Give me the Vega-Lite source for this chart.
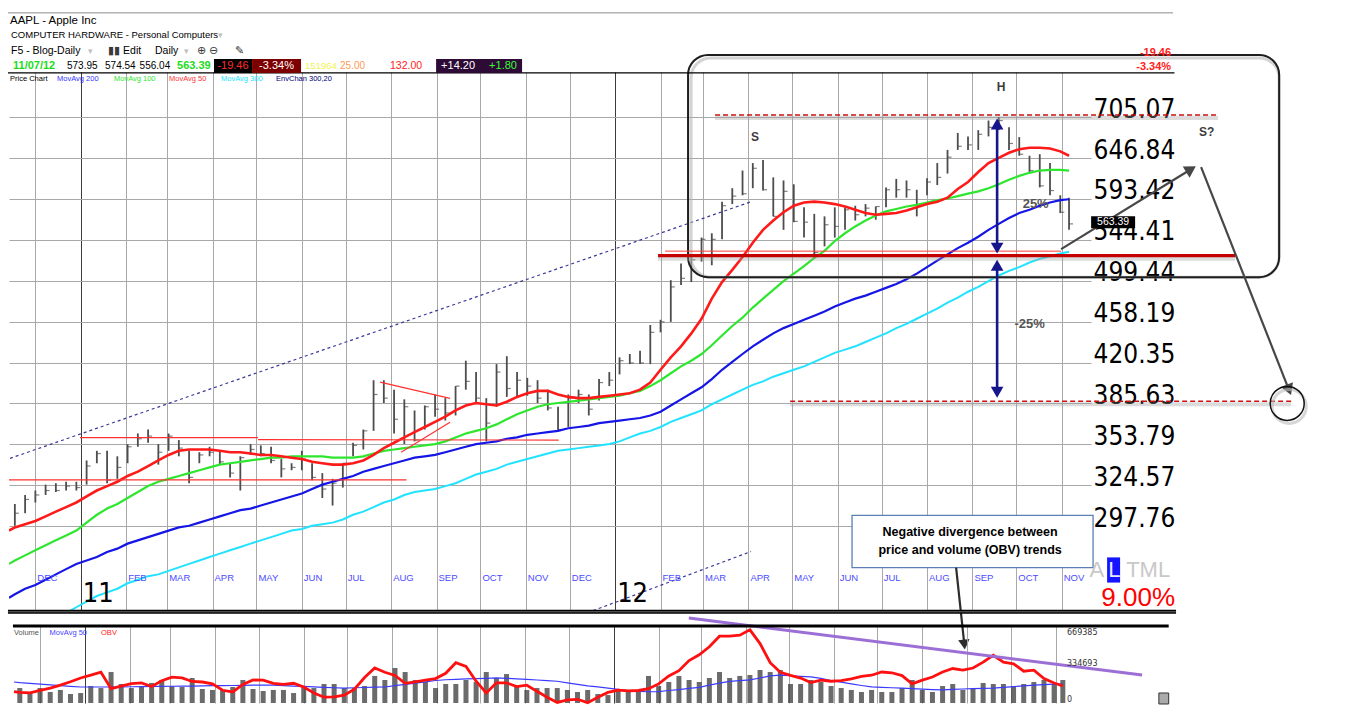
{
  "$schema": "https://vega.github.io/schema/vega-lite/v6.json",
  "background": "white",
  "padding": {"left": 5, "top": 12, "right": 4, "bottom": 4},
  "spacing": 14,
  "bounds": "flush",
  "config": {"view": {"stroke": null}, "font": "Liberation Sans", "text": {"font": "Liberation Sans"}},
  "datasets": {
    "w": [
      {"d": "2010-11-13", "a": 295, "b": 275, "c": 256, "e": 232, "vm": 198000, "ob": 107000},
      {"d": "2010-11-17", "hi": 312, "lo": 298, "cl": 306, "a": 297, "b": 277, "c": 258, "e": 235, "vol": 141000, "vm": 192000, "ob": 100000},
      {"d": "2010-11-24", "hi": 318, "lo": 306, "cl": 315, "a": 299, "b": 280, "c": 261, "e": 238, "vol": 104000, "vm": 185000, "ob": 96000},
      {"d": "2010-12-01", "hi": 321, "lo": 313, "cl": 318, "a": 301, "b": 283, "c": 263, "e": 240, "vol": 141000, "vm": 178000, "ob": 118000},
      {"d": "2010-12-08", "hi": 325, "lo": 318, "cl": 321, "a": 304, "b": 286, "c": 266, "e": 242, "vol": 104000, "vm": 170000, "ob": 140000},
      {"d": "2010-12-15", "hi": 326, "lo": 320, "cl": 321, "a": 307, "b": 289, "c": 269, "e": 245, "vol": 123000, "vm": 163000, "ob": 168000},
      {"d": "2010-12-22", "hi": 327, "lo": 321, "cl": 324, "a": 310, "b": 292, "c": 272, "e": 248, "vol": 85000, "vm": 157000, "ob": 200000},
      {"d": "2010-12-29", "hi": 327, "lo": 321, "cl": 323, "a": 313, "b": 295, "c": 275, "e": 251, "vol": 94000, "vm": 151000, "ob": 236000},
      {"d": "2011-01-05", "hi": 342, "lo": 325, "cl": 338, "a": 317, "b": 300, "c": 277, "e": 254, "vol": 160000, "vm": 151000, "ob": 262000},
      {"d": "2011-01-12", "hi": 349, "lo": 340, "cl": 347, "a": 321, "b": 305, "c": 279, "e": 257, "vol": 141000, "vm": 151000, "ob": 290000},
      {"d": "2011-01-19", "hi": 349, "lo": 326, "cl": 328, "a": 324, "b": 309, "c": 282, "e": 259, "vol": 292000, "vm": 151000, "ob": 135000},
      {"d": "2011-01-26", "hi": 345, "lo": 329, "cl": 337, "a": 327, "b": 312, "c": 284, "e": 261, "vol": 179000, "vm": 151000, "ob": 160000},
      {"d": "2011-02-02", "hi": 354, "lo": 340, "cl": 352, "a": 331, "b": 316, "c": 287, "e": 264, "vol": 141000, "vm": 153000, "ob": 183000},
      {"d": "2011-02-09", "hi": 362, "lo": 352, "cl": 358, "a": 334, "b": 320, "c": 289, "e": 266, "vol": 151000, "vm": 155000, "ob": 190000},
      {"d": "2011-02-16", "hi": 365, "lo": 355, "cl": 360, "a": 338, "b": 324, "c": 291, "e": 268, "vol": 189000, "vm": 156000, "ob": 155000},
      {"d": "2011-02-23", "hi": 354, "lo": 339, "cl": 348, "a": 342, "b": 327, "c": 293, "e": 269, "vol": 217000, "vm": 157000, "ob": 210000},
      {"d": "2011-03-02", "hi": 362, "lo": 349, "cl": 360, "a": 346, "b": 329, "c": 295, "e": 271, "vol": 160000, "vm": 158000, "ob": 243000},
      {"d": "2011-03-09", "hi": 357, "lo": 345, "cl": 351, "a": 349, "b": 331, "c": 297, "e": 273, "vol": 151000, "vm": 159000, "ob": 236000},
      {"d": "2011-03-16", "hi": 349, "lo": 326, "cl": 330, "a": 350, "b": 333, "c": 298, "e": 275, "vol": 236000, "vm": 160000, "ob": 203000},
      {"d": "2011-03-23", "hi": 348, "lo": 340, "cl": 346, "a": 350, "b": 335, "c": 300, "e": 277, "vol": 132000, "vm": 161000, "ob": 198000},
      {"d": "2011-03-30", "hi": 352, "lo": 345, "cl": 348, "a": 350, "b": 337, "c": 302, "e": 279, "vol": 123000, "vm": 163000, "ob": 180000},
      {"d": "2011-04-06", "hi": 349, "lo": 339, "cl": 341, "a": 349, "b": 339, "c": 304, "e": 281, "vol": 123000, "vm": 164000, "ob": 120000},
      {"d": "2011-04-13", "hi": 340, "lo": 330, "cl": 333, "a": 348, "b": 340, "c": 306, "e": 283, "vol": 151000, "vm": 165000, "ob": 104000},
      {"d": "2011-04-20", "hi": 345, "lo": 321, "cl": 344, "a": 348, "b": 341, "c": 308, "e": 285, "vol": 217000, "vm": 166000, "ob": 175000},
      {"d": "2011-04-27", "hi": 354, "lo": 346, "cl": 350, "a": 347, "b": 342, "c": 309, "e": 287, "vol": 132000, "vm": 168000, "ob": 217000},
      {"d": "2011-05-04", "hi": 353, "lo": 345, "cl": 347, "a": 346, "b": 343, "c": 311, "e": 289, "vol": 113000, "vm": 169000, "ob": 215000},
      {"d": "2011-05-11", "hi": 352, "lo": 340, "cl": 342, "a": 346, "b": 344, "c": 313, "e": 291, "vol": 123000, "vm": 168000, "ob": 185000},
      {"d": "2011-05-18", "hi": 343, "lo": 330, "cl": 336, "a": 345, "b": 344, "c": 315, "e": 293, "vol": 123000, "vm": 164000, "ob": 175000},
      {"d": "2011-05-25", "hi": 340, "lo": 335, "cl": 337, "a": 344, "b": 345, "c": 317, "e": 295, "vol": 94000, "vm": 160000, "ob": 186000},
      {"d": "2011-06-01", "hi": 349, "lo": 335, "cl": 343, "a": 343, "b": 345, "c": 319, "e": 296, "vol": 141000, "vm": 156000, "ob": 150000},
      {"d": "2011-06-08", "hi": 340, "lo": 328, "cl": 330, "a": 341, "b": 345, "c": 322, "e": 298, "vol": 141000, "vm": 152000, "ob": 95000},
      {"d": "2011-06-15", "hi": 333, "lo": 316, "cl": 322, "a": 340, "b": 345, "c": 325, "e": 299, "vol": 179000, "vm": 148000, "ob": 55000},
      {"d": "2011-06-22", "hi": 329, "lo": 311, "cl": 326, "a": 339, "b": 344, "c": 327, "e": 300, "vol": 179000, "vm": 144000, "ob": 58000},
      {"d": "2011-06-29", "hi": 340, "lo": 323, "cl": 340, "a": 339, "b": 344, "c": 329, "e": 302, "vol": 141000, "vm": 141000, "ob": 73000},
      {"d": "2011-07-06", "hi": 355, "lo": 345, "cl": 353, "a": 340, "b": 344, "c": 331, "e": 305, "vol": 141000, "vm": 144000, "ob": 130000},
      {"d": "2011-07-13", "hi": 365, "lo": 350, "cl": 364, "a": 342, "b": 345, "c": 334, "e": 307, "vol": 160000, "vm": 146000, "ob": 240000},
      {"d": "2011-07-20", "hi": 405, "lo": 364, "cl": 393, "a": 346, "b": 347, "c": 336, "e": 310, "vol": 255000, "vm": 149000, "ob": 330000},
      {"d": "2011-07-27", "hi": 405, "lo": 386, "cl": 390, "a": 351, "b": 349, "c": 338, "e": 313, "vol": 217000, "vm": 151000, "ob": 290000},
      {"d": "2011-08-03", "hi": 397, "lo": 362, "cl": 373, "a": 355, "b": 350, "c": 340, "e": 315, "vol": 330000, "vm": 163000, "ob": 260000},
      {"d": "2011-08-10", "hi": 389, "lo": 354, "cl": 383, "a": 359, "b": 351, "c": 342, "e": 318, "vol": 292000, "vm": 175000, "ob": 185000},
      {"d": "2011-08-17", "hi": 380, "lo": 356, "cl": 357, "a": 363, "b": 352, "c": 344, "e": 320, "vol": 217000, "vm": 188000, "ob": 200000},
      {"d": "2011-08-24", "hi": 384, "lo": 365, "cl": 383, "a": 367, "b": 353, "c": 345, "e": 321, "vol": 198000, "vm": 200000, "ob": 216000},
      {"d": "2011-08-31", "hi": 393, "lo": 375, "cl": 381, "a": 371, "b": 354, "c": 346, "e": 322, "vol": 141000, "vm": 212000, "ob": 230000},
      {"d": "2011-09-07", "hi": 390, "lo": 372, "cl": 378, "a": 375, "b": 356, "c": 348, "e": 324, "vol": 179000, "vm": 219000, "ob": 280000},
      {"d": "2011-09-14", "hi": 400, "lo": 376, "cl": 400, "a": 380, "b": 359, "c": 350, "e": 326, "vol": 179000, "vm": 223000, "ob": 380000},
      {"d": "2011-09-21", "hi": 422, "lo": 397, "cl": 404, "a": 384, "b": 362, "c": 352, "e": 329, "vol": 217000, "vm": 227000, "ob": 345000},
      {"d": "2011-09-28", "hi": 412, "lo": 385, "cl": 390, "a": 386, "b": 364, "c": 354, "e": 332, "vol": 198000, "vm": 230000, "ob": 205000},
      {"d": "2011-10-05", "hi": 390, "lo": 356, "cl": 370, "a": 385, "b": 366, "c": 355, "e": 334, "vol": 292000, "vm": 233000, "ob": 94000},
      {"d": "2011-10-12", "hi": 419, "lo": 383, "cl": 412, "a": 384, "b": 369, "c": 356, "e": 336, "vol": 236000, "vm": 236000, "ob": 190000},
      {"d": "2011-10-19", "hi": 426, "lo": 391, "cl": 398, "a": 387, "b": 373, "c": 358, "e": 339, "vol": 273000, "vm": 232000, "ob": 190000},
      {"d": "2011-10-26", "hi": 412, "lo": 391, "cl": 405, "a": 391, "b": 377, "c": 359, "e": 341, "vol": 160000, "vm": 227000, "ob": 155000},
      {"d": "2011-11-02", "hi": 407, "lo": 392, "cl": 400, "a": 394, "b": 380, "c": 361, "e": 343, "vol": 123000, "vm": 222000, "ob": 168000},
      {"d": "2011-11-09", "hi": 405, "lo": 386, "cl": 390, "a": 396, "b": 383, "c": 362, "e": 345, "vol": 141000, "vm": 217000, "ob": 110000},
      {"d": "2011-11-16", "hi": 397, "lo": 380, "cl": 382, "a": 396, "b": 385, "c": 363, "e": 347, "vol": 141000, "vm": 211000, "ob": 55000},
      {"d": "2011-11-23", "hi": 383, "lo": 364, "cl": 365, "a": 393, "b": 386, "c": 364, "e": 349, "vol": 141000, "vm": 205000, "ob": 5000},
      {"d": "2011-11-30", "hi": 393, "lo": 367, "cl": 390, "a": 391, "b": 387, "c": 366, "e": 350, "vol": 123000, "vm": 190000, "ob": 30000},
      {"d": "2011-12-07", "hi": 397, "lo": 386, "cl": 393, "a": 390, "b": 388, "c": 367, "e": 351, "vol": 104000, "vm": 175000, "ob": 35000},
      {"d": "2011-12-14", "hi": 393, "lo": 376, "cl": 381, "a": 390, "b": 389, "c": 368, "e": 352, "vol": 123000, "vm": 162000, "ob": 3000},
      {"d": "2011-12-21", "hi": 406, "lo": 388, "cl": 403, "a": 391, "b": 390, "c": 370, "e": 353, "vol": 85000, "vm": 152000, "ob": 55000},
      {"d": "2011-12-28", "hi": 412, "lo": 400, "cl": 405, "a": 392, "b": 391, "c": 371, "e": 354, "vol": 75000, "vm": 140000, "ob": 100000},
      {"d": "2012-01-04", "hi": 425, "lo": 410, "cl": 422, "a": 393, "b": 392, "c": 372, "e": 356, "vol": 123000, "vm": 128000, "ob": 122000},
      {"d": "2012-01-11", "hi": 428, "lo": 419, "cl": 420, "a": 394, "b": 394, "c": 373, "e": 359, "vol": 104000, "vm": 117000, "ob": 115000},
      {"d": "2012-01-18", "hi": 431, "lo": 419, "cl": 420, "a": 397, "b": 396, "c": 374, "e": 362, "vol": 123000, "vm": 109000, "ob": 118000},
      {"d": "2012-01-25", "hi": 455, "lo": 419, "cl": 448, "a": 403, "b": 400, "c": 376, "e": 364, "vol": 255000, "vm": 106000, "ob": 135000},
      {"d": "2012-02-01", "hi": 460, "lo": 448, "cl": 458, "a": 414, "b": 405, "c": 379, "e": 367, "vol": 160000, "vm": 108000, "ob": 180000},
      {"d": "2012-02-08", "hi": 500, "lo": 458, "cl": 493, "a": 425, "b": 411, "c": 384, "e": 371, "vol": 198000, "vm": 118000, "ob": 255000},
      {"d": "2012-02-15", "hi": 518, "lo": 495, "cl": 502, "a": 435, "b": 417, "c": 389, "e": 374, "vol": 255000, "vm": 127000, "ob": 305000},
      {"d": "2012-02-22", "hi": 528, "lo": 498, "cl": 522, "a": 447, "b": 422, "c": 394, "e": 377, "vol": 217000, "vm": 137000, "ob": 400000},
      {"d": "2012-02-29", "hi": 547, "lo": 520, "cl": 545, "a": 461, "b": 428, "c": 399, "e": 380, "vol": 198000, "vm": 148000, "ob": 455000},
      {"d": "2012-03-07", "hi": 552, "lo": 516, "cl": 545, "a": 481, "b": 436, "c": 406, "e": 385, "vol": 236000, "vm": 168000, "ob": 530000},
      {"d": "2012-03-14", "hi": 590, "lo": 545, "cl": 585, "a": 498, "b": 445, "c": 414, "e": 389, "vol": 292000, "vm": 187000, "ob": 630000},
      {"d": "2012-03-21", "hi": 607, "lo": 587, "cl": 597, "a": 511, "b": 454, "c": 421, "e": 393, "vol": 236000, "vm": 204000, "ob": 630000},
      {"d": "2012-03-28", "hi": 630, "lo": 598, "cl": 600, "a": 525, "b": 462, "c": 428, "e": 397, "vol": 255000, "vm": 211000, "ob": 640000},
      {"d": "2012-04-04", "hi": 640, "lo": 607, "cl": 633, "a": 541, "b": 472, "c": 435, "e": 401, "vol": 264000, "vm": 218000, "ob": 690000},
      {"d": "2012-04-11", "hi": 644, "lo": 604, "cl": 605, "a": 556, "b": 481, "c": 441, "e": 404, "vol": 311000, "vm": 236000, "ob": 560000},
      {"d": "2012-04-18", "hi": 621, "lo": 572, "cl": 572, "a": 567, "b": 490, "c": 447, "e": 408, "vol": 292000, "vm": 255000, "ob": 380000},
      {"d": "2012-04-25", "hi": 617, "lo": 556, "cl": 603, "a": 577, "b": 499, "c": 452, "e": 411, "vol": 311000, "vm": 263000, "ob": 290000},
      {"d": "2012-05-02", "hi": 612, "lo": 565, "cl": 566, "a": 585, "b": 507, "c": 456, "e": 414, "vol": 179000, "vm": 257000, "ob": 260000},
      {"d": "2012-05-09", "hi": 583, "lo": 547, "cl": 565, "a": 589, "b": 515, "c": 460, "e": 417, "vol": 179000, "vm": 251000, "ob": 235000},
      {"d": "2012-05-16", "hi": 575, "lo": 523, "cl": 530, "a": 590, "b": 524, "c": 464, "e": 421, "vol": 217000, "vm": 246000, "ob": 192000},
      {"d": "2012-05-23", "hi": 572, "lo": 537, "cl": 562, "a": 589, "b": 532, "c": 468, "e": 425, "vol": 198000, "vm": 232000, "ob": 215000},
      {"d": "2012-05-30", "hi": 583, "lo": 547, "cl": 560, "a": 587, "b": 543, "c": 473, "e": 429, "vol": 160000, "vm": 212000, "ob": 205000},
      {"d": "2012-06-06", "hi": 583, "lo": 556, "cl": 580, "a": 584, "b": 552, "c": 477, "e": 432, "vol": 141000, "vm": 196000, "ob": 210000},
      {"d": "2012-06-13", "hi": 585, "lo": 567, "cl": 574, "a": 580, "b": 560, "c": 481, "e": 435, "vol": 123000, "vm": 180000, "ob": 228000},
      {"d": "2012-06-20", "hi": 587, "lo": 572, "cl": 582, "a": 576, "b": 567, "c": 484, "e": 439, "vol": 104000, "vm": 165000, "ob": 250000},
      {"d": "2012-06-27", "hi": 584, "lo": 568, "cl": 584, "a": 574, "b": 573, "c": 488, "e": 443, "vol": 123000, "vm": 152000, "ob": 262000},
      {"d": "2012-07-04", "hi": 608, "lo": 583, "cl": 605, "a": 575, "b": 578, "c": 492, "e": 447, "vol": 104000, "vm": 148000, "ob": 292000},
      {"d": "2012-07-11", "hi": 619, "lo": 595, "cl": 605, "a": 576, "b": 581, "c": 496, "e": 452, "vol": 104000, "vm": 144000, "ob": 285000},
      {"d": "2012-07-18", "hi": 617, "lo": 595, "cl": 605, "a": 579, "b": 584, "c": 501, "e": 456, "vol": 141000, "vm": 140000, "ob": 258000},
      {"d": "2012-07-25", "hi": 605, "lo": 572, "cl": 585, "a": 583, "b": 586, "c": 507, "e": 461, "vol": 217000, "vm": 135000, "ob": 180000},
      {"d": "2012-08-01", "hi": 620, "lo": 598, "cl": 615, "a": 587, "b": 589, "c": 514, "e": 466, "vol": 123000, "vm": 130000, "ob": 215000},
      {"d": "2012-08-08", "hi": 640, "lo": 611, "cl": 621, "a": 590, "b": 592, "c": 521, "e": 471, "vol": 104000, "vm": 126000, "ob": 245000},
      {"d": "2012-08-15", "hi": 658, "lo": 626, "cl": 648, "a": 595, "b": 594, "c": 528, "e": 477, "vol": 160000, "vm": 124000, "ob": 292000},
      {"d": "2012-08-22", "hi": 682, "lo": 658, "cl": 663, "a": 606, "b": 597, "c": 535, "e": 482, "vol": 179000, "vm": 128000, "ob": 325000},
      {"d": "2012-08-29", "hi": 677, "lo": 658, "cl": 665, "a": 615, "b": 600, "c": 541, "e": 488, "vol": 123000, "vm": 132000, "ob": 310000},
      {"d": "2012-09-05", "hi": 686, "lo": 658, "cl": 680, "a": 628, "b": 603, "c": 548, "e": 493, "vol": 141000, "vm": 135000, "ob": 330000},
      {"d": "2012-09-12", "hi": 700, "lo": 677, "cl": 690, "a": 640, "b": 607, "c": 556, "e": 499, "vol": 189000, "vm": 138000, "ob": 385000},
      {"d": "2012-09-19", "hi": 705, "lo": 686, "cl": 700, "a": 647, "b": 612, "c": 563, "e": 505, "vol": 179000, "vm": 141000, "ob": 450000},
      {"d": "2012-09-26", "hi": 690, "lo": 658, "cl": 667, "a": 654, "b": 618, "c": 570, "e": 510, "vol": 179000, "vm": 147000, "ob": 385000},
      {"d": "2012-10-03", "hi": 676, "lo": 650, "cl": 652, "a": 659, "b": 623, "c": 576, "e": 514, "vol": 160000, "vm": 155000, "ob": 370000},
      {"d": "2012-10-10", "hi": 650, "lo": 626, "cl": 630, "a": 661, "b": 627, "c": 580, "e": 519, "vol": 179000, "vm": 162000, "ob": 300000},
      {"d": "2012-10-17", "hi": 652, "lo": 608, "cl": 610, "a": 661, "b": 630, "c": 585, "e": 523, "vol": 198000, "vm": 168000, "ob": 310000},
      {"d": "2012-10-24", "hi": 640, "lo": 598, "cl": 604, "a": 660, "b": 631, "c": 589, "e": 526, "vol": 217000, "vm": 173000, "ob": 230000},
      {"d": "2012-10-31", "hi": 598, "lo": 576, "cl": 577, "a": 656, "b": 631, "c": 592, "e": 529, "vol": 179000, "vm": 178000, "ob": 189000},
      {"d": "2012-11-06", "hi": 595, "lo": 556, "cl": 563, "a": 650, "b": 630, "c": 593, "e": 531, "vol": 217000, "vm": 179000, "ob": 160000}
    ]
  },
  "vconcat": [
    {
      "width": 1082,
      "height": 540,
      "encoding": {
        "x": {
          "field": "d", "type": "temporal",
          "scale": {"domain": [{"year": 2010, "month": 11, "date": 13}, {"year": 2012, "month": 11, "date": 21}], "nice": false},
          "axis": {
            "title": null, "labels": false, "ticks": false, "domain": false, "grid": true,
            "tickCount": {"interval": "month", "step": 1},
            "gridColor": {"condition": {"test": "month(datum.value) === 0", "value": "#3c3c3c"}, "value": "#a8a8a8"}
          }
        }
      },
      "layer": [
        {
          "data": {"name": "w"},
          "mark": {"type": "rule", "color": "#4d4d4d", "strokeWidth": 1.8},
          "encoding": {
            "y": {
              "field": "lo", "type": "quantitative",
              "scale": {"type": "log", "domain": [248.5, 775.4], "nice": false},
              "axis": {
                "orient": "right", "title": null,
                "values": [297.76, 324.57, 353.79, 385.63, 420.35, 458.19, 499.44, 544.41, 593.42, 646.84, 705.07],
                "format": ".2f", "grid": true, "gridColor": "#a8a8a8", "ticks": false, "domain": false,
                "labelFont": "DejaVu Sans Condensed, Liberation Sans Narrow, sans-serif", "labelFontSize": 26, "labelColor": "#000000",
                "labelAlign": "left", "labelBaseline": "alphabetic", "labelPadding": 2, "labelOverlap": false, "labelBound": false
              }
            },
            "y2": {"field": "hi"}
          }
        },
        {
          "data": {"name": "w"},
          "mark": {"type": "tick", "orient": "horizontal", "size": 4, "thickness": 1.2, "xOffset": 2, "color": "#4d4d4d"},
          "encoding": {"y": {"field": "cl", "type": "quantitative"}}
        },
        {
          "data": {"values": [
            {"d": "2010-11-13T16:00", "p": 343.5, "d2": "2012-04-02T03:00", "p2": 589.5},
            {"d": "2011-12-16T22:00", "p": 249.2, "d2": "2012-04-02T19:00", "p2": 282.3}
          ], "format": {"parse": {"d": "date", "d2": "date"}}},
          "mark": {"type": "rule", "color": "#3a3a9a", "strokeWidth": 1.2, "strokeDash": [3, 3]},
          "encoding": {"y": {"field": "p", "type": "quantitative"}, "x2": {"field": "d2"}, "y2": {"field": "p2"}}
        },
        {
          "data": {"name": "w"},
          "mark": {"type": "line", "color": "#22e3ff", "strokeWidth": 2, "clip": true},
          "encoding": {"y": {"field": "e", "type": "quantitative"}}
        },
        {
          "data": {"name": "w"},
          "mark": {"type": "line", "color": "#1515e6", "strokeWidth": 2.2, "clip": true},
          "encoding": {"y": {"field": "c", "type": "quantitative"}}
        },
        {
          "data": {"name": "w"},
          "mark": {"type": "line", "color": "#2ee62e", "strokeWidth": 2.2, "clip": true},
          "encoding": {"y": {"field": "b", "type": "quantitative"}}
        },
        {
          "data": {"name": "w"},
          "mark": {"type": "line", "color": "#ff1a1a", "strokeWidth": 2.6, "clip": true},
          "encoding": {"y": {"field": "a", "type": "quantitative"}}
        },
        {
          "data": {"values": [
            {"d": "2010-12-31T12:00", "p": 358.8, "d2": "2011-05-02T02:00", "p2": 358.8},
            {"d": "2011-05-02T02:00", "p": 357.3, "d2": "2011-11-23T10:00", "p2": 357.0},
            {"d": "2010-11-13T00:00", "p": 328.3, "d2": "2011-08-11T12:00", "p2": 328.3},
            {"d": "2011-07-24T10:00", "p": 403.4, "d2": "2011-09-10T05:00", "p2": 389.8},
            {"d": "2011-08-07T19:00", "p": 347.9, "d2": "2011-09-10T05:00", "p2": 370.6}
          ], "format": {"parse": {"d": "date", "d2": "date"}}},
          "mark": {"type": "rule", "color": "#ff3030", "strokeWidth": 1.2},
          "encoding": {"y": {"field": "p", "type": "quantitative"}, "x2": {"field": "d2"}, "y2": {"field": "p2"}}
        },
        {
          "data": {"values": [{"d": "2012-02-19T19:00", "d2": "2013-03-29T12:00", "p": 803.8, "p2": 503.2}], "format": {"parse": {"d": "date", "d2": "date"}}},
          "mark": {"type": "rect", "cornerRadius": 20, "fill": null, "stroke": "#b5b5b5", "strokeWidth": 3, "strokeOpacity": 0.6, "xOffset": 3, "yOffset": 3},
          "encoding": {"y": {"field": "p", "type": "quantitative"}, "x2": {"field": "d2"}, "y2": {"field": "p2"}}
        },
        {
          "data": {"values": [{"d": "2012-02-19T19:00", "d2": "2013-03-29T12:00", "p": 803.8, "p2": 503.2}], "format": {"parse": {"d": "date", "d2": "date"}}},
          "mark": {"type": "rect", "cornerRadius": 20, "fill": null, "stroke": "#1e1e1e", "strokeWidth": 2},
          "encoding": {"y": {"field": "p", "type": "quantitative"}, "x2": {"field": "d2"}, "y2": {"field": "p2"}}
        },
        {
          "data": {"values": [
            {"d": "2012-01-30T07:00", "d2": "2013-02-27T10:00", "p": 526.5},
            {"d": "2012-03-09T05:00", "d2": "2013-02-15T19:00", "p": 708.2},
            {"d": "2012-04-29T12:00", "d2": "2013-04-06T17:00", "p": 387.4}
          ], "format": {"parse": {"d": "date", "d2": "date"}}},
          "mark": {"type": "rule", "color": "#9a9a9a", "strokeWidth": 4, "opacity": 0.35, "yOffset": 3},
          "encoding": {"y": {"field": "p", "type": "quantitative"}, "x2": {"field": "d2"}}
        },
        {
          "data": {"values": [{"d": "2012-01-30T07:00", "d2": "2013-02-27T10:00", "p": 526.5}], "format": {"parse": {"d": "date", "d2": "date"}}},
          "mark": {"type": "rule", "color": "#c40000", "strokeWidth": 3.2},
          "encoding": {"y": {"field": "p", "type": "quantitative"}, "x2": {"field": "d2"}}
        },
        {
          "data": {"values": [{"d": "2012-02-04T02:00", "d2": "2012-10-31T14:00", "p": 531.6}], "format": {"parse": {"d": "date", "d2": "date"}}},
          "mark": {"type": "rule", "color": "#ff3b3b", "strokeWidth": 1},
          "encoding": {"y": {"field": "p", "type": "quantitative"}, "x2": {"field": "d2"}}
        },
        {
          "data": {"values": [
            {"d": "2012-03-09T05:00", "d2": "2013-02-15T19:00", "p": 708.2},
            {"d": "2012-04-29T12:00", "d2": "2013-04-06T17:00", "p": 387.4}
          ], "format": {"parse": {"d": "date", "d2": "date"}}},
          "mark": {"type": "rule", "color": "#cc1111", "strokeWidth": 1.5, "strokeDash": [5, 3]},
          "encoding": {"y": {"field": "p", "type": "quantitative"}, "x2": {"field": "d2"}}
        },
        {
          "data": {"values": [
            {"d": "2012-09-17T21:00", "p": 694.9, "p2": 535.0},
            {"d": "2012-09-17T21:00", "p": 516.1, "p2": 394.8}
          ]},
          "mark": {"type": "rule", "color": "#16168c", "strokeWidth": 2.6},
          "encoding": {"y": {"field": "p", "type": "quantitative"}, "y2": {"field": "p2"}}
        },
        {
          "data": {"values": [{"d": "2012-09-17T21:00", "p": 694.9}, {"d": "2012-09-17T21:00", "p": 516.1}]},
          "mark": {"type": "point", "shape": "triangle-up", "filled": true, "size": 160, "color": "#16168c", "opacity": 1},
          "encoding": {"y": {"field": "p", "type": "quantitative"}}
        },
        {
          "data": {"values": [{"d": "2012-09-17T21:00", "p": 535.0}, {"d": "2012-09-17T21:00", "p": 394.8}]},
          "mark": {"type": "point", "shape": "triangle-down", "filled": true, "size": 160, "color": "#16168c", "opacity": 1},
          "encoding": {"y": {"field": "p", "type": "quantitative"}}
        },
        {
          "data": {"values": [
            {"d": "2012-10-31T14:00", "p": 533.8, "d2": "2013-01-28T07:00", "p2": 631.8},
            {"d": "2013-02-04T05:00", "p": 634.6, "d2": "2013-04-05T05:00", "p2": 396.9}
          ], "format": {"parse": {"d": "date", "d2": "date"}}},
          "mark": {"type": "rule", "color": "#474747", "strokeWidth": 2.2},
          "encoding": {"y": {"field": "p", "type": "quantitative"}, "x2": {"field": "d2"}, "y2": {"field": "p2"}}
        },
        {
          "data": {"values": [{"d": "2013-01-28T07:00", "p": 631.8}]},
          "mark": {"type": "point", "shape": "triangle-up", "angle": 58.7, "filled": true, "size": 170, "color": "#474747", "opacity": 1},
          "encoding": {"y": {"field": "p", "type": "quantitative"}}
        },
        {
          "data": {"values": [{"d": "2013-04-05T05:00", "p": 396.9}]},
          "mark": {"type": "point", "shape": "triangle-up", "angle": 158.5, "filled": true, "size": 170, "color": "#474747", "opacity": 1},
          "encoding": {"y": {"field": "p", "type": "quantitative"}}
        },
        {
          "data": {"values": [{"d": "2013-04-04T00:00", "p": 385.7}]},
          "mark": {"type": "point", "shape": "circle", "filled": false, "size": 1156, "stroke": "#bdbdbd", "strokeWidth": 3, "opacity": 0.6, "xOffset": 2, "yOffset": 3},
          "encoding": {"y": {"field": "p", "type": "quantitative"}}
        },
        {
          "data": {"values": [{"d": "2013-04-04T00:00", "p": 385.7}]},
          "mark": {"type": "point", "shape": "circle", "filled": false, "size": 1156, "stroke": "#111111", "strokeWidth": 1.5, "opacity": 1},
          "encoding": {"y": {"field": "p", "type": "quantitative"}}
        },
        {
          "data": {"values": [
            {"d": "2012-04-05T14:00", "p": 676.1, "t": "S"},
            {"d": "2012-09-20T14:00", "p": 751.3, "t": "H"},
            {"d": "2013-02-08T00:00", "p": 683.3, "t": "S?"}
          ]},
          "mark": {"type": "text", "align": "center", "baseline": "middle", "fontSize": 12, "fontWeight": "bold", "color": "#3c3c3c"},
          "encoding": {"y": {"field": "p", "type": "quantitative"}, "text": {"field": "t"}}
        },
        {
          "data": {"values": [
            {"d": "2012-10-14T05:00", "p": 587.0, "t": "25%"},
            {"d": "2012-10-10T02:00", "p": 455.7, "t": "-25%"}
          ]},
          "mark": {"type": "text", "align": "center", "baseline": "middle", "fontSize": 13, "fontWeight": "bold", "color": "#555555"},
          "encoding": {"y": {"field": "p", "type": "quantitative"}, "text": {"field": "t"}}
        },
        {
          "data": {"values": [{"d": "2012-11-21T02:00", "d2": "2012-12-21T03:00", "p": 572.3, "p2": 558.0}], "format": {"parse": {"d": "date", "d2": "date"}}},
          "mark": {"type": "rect", "color": "#000000"},
          "encoding": {"y": {"field": "p", "type": "quantitative"}, "x2": {"field": "d2"}, "y2": {"field": "p2"}}
        },
        {
          "data": {"values": [{"d": "2012-12-06T03:00", "p": 565.1, "t": "563.39"}]},
          "mark": {"type": "text", "align": "center", "baseline": "middle", "fontSize": 10.5, "color": "#ffffff"},
          "encoding": {"y": {"field": "p", "type": "quantitative"}, "text": {"field": "t"}}
        },
        {
          "data": {"values": [{"d": "2012-06-10T19:00", "d2": "2012-11-22T10:00", "p": 304.6, "p2": 272.9}], "format": {"parse": {"d": "date", "d2": "date"}}},
          "mark": {"type": "rect", "color": "#c4c4c4", "opacity": 0.6, "xOffset": 3, "yOffset": 3},
          "encoding": {"y": {"field": "p", "type": "quantitative"}, "x2": {"field": "d2"}, "y2": {"field": "p2"}}
        },
        {
          "data": {"values": [{"d": "2012-06-10T19:00", "d2": "2012-11-22T10:00", "p": 304.6, "p2": 272.9}], "format": {"parse": {"d": "date", "d2": "date"}}},
          "mark": {"type": "rect", "fill": "#ffffff", "stroke": "#5b7fb5", "strokeWidth": 1.3},
          "encoding": {"y": {"field": "p", "type": "quantitative"}, "x2": {"field": "d2"}, "y2": {"field": "p2"}}
        },
        {
          "data": {"values": [
            {"d": "2012-08-30T10:00", "p": 293.9, "t": "Negative divergence between"},
            {"d": "2012-08-30T10:00", "p": 283.4, "t": "price and volume (OBV) trends"}
          ]},
          "mark": {"type": "text", "align": "center", "baseline": "middle", "fontSize": 12.5, "fontWeight": "bold", "color": "#000000"},
          "encoding": {"y": {"field": "p", "type": "quantitative"}, "text": {"field": "t"}}
        },
        {
          "data": {"values": [{"d": "2012-08-20T21:00", "p": 272.9, "d2": "2012-08-26T12:00", "p2": 232.0}], "format": {"parse": {"d": "date", "d2": "date"}}},
          "mark": {"type": "rule", "color": "#2d2d2d", "strokeWidth": 2.2},
          "encoding": {"y": {"field": "p", "type": "quantitative"}, "x2": {"field": "d2"}, "y2": {"field": "p2"}}
        },
        {
          "data": {"values": [{"d": "2012-08-26T12:00", "p": 232.0}]},
          "mark": {"type": "point", "shape": "triangle-up", "angle": 174, "filled": true, "size": 130, "color": "#2d2d2d", "opacity": 1},
          "encoding": {"y": {"field": "p", "type": "quantitative"}}
        },
        {
          "data": {"values": [
            {"d": "2010-12-01", "p": 267.2, "t": "DEC"}, {"d": "2011-02-01", "p": 267.2, "t": "FEB"}, {"d": "2011-03-01", "p": 267.2, "t": "MAR"},
            {"d": "2011-04-01", "p": 267.2, "t": "APR"}, {"d": "2011-05-01", "p": 267.2, "t": "MAY"}, {"d": "2011-06-01", "p": 267.2, "t": "JUN"},
            {"d": "2011-07-01", "p": 267.2, "t": "JUL"}, {"d": "2011-08-01", "p": 267.2, "t": "AUG"}, {"d": "2011-09-01", "p": 267.2, "t": "SEP"},
            {"d": "2011-10-01", "p": 267.2, "t": "OCT"}, {"d": "2011-11-01", "p": 267.2, "t": "NOV"}, {"d": "2011-12-01", "p": 267.2, "t": "DEC"},
            {"d": "2012-02-01", "p": 267.2, "t": "FEB"}, {"d": "2012-03-01", "p": 267.2, "t": "MAR"}, {"d": "2012-04-01", "p": 267.2, "t": "APR"},
            {"d": "2012-05-01", "p": 267.2, "t": "MAY"}, {"d": "2012-06-01", "p": 267.2, "t": "JUN"}, {"d": "2012-07-01", "p": 267.2, "t": "JUL"},
            {"d": "2012-08-01", "p": 267.2, "t": "AUG"}, {"d": "2012-09-01", "p": 267.2, "t": "SEP"}, {"d": "2012-10-01", "p": 267.2, "t": "OCT"},
            {"d": "2012-11-01", "p": 267.2, "t": "NOV"}
          ]},
          "mark": {"type": "text", "align": "left", "baseline": "middle", "dx": 2, "fontSize": 9.5, "color": "#4b4bff"},
          "encoding": {"y": {"field": "p", "type": "quantitative"}, "text": {"field": "t"}}
        },
        {
          "data": {"values": [{"d": "2011-01-01", "p": 258.3, "t": "11"}, {"d": "2012-01-01", "p": 258.3, "t": "12"}]},
          "mark": {"type": "text", "align": "left", "baseline": "middle", "dx": 2, "fontSize": 27, "font": "DejaVu Sans Condensed, Liberation Sans Narrow, sans-serif", "color": "#000000"},
          "encoding": {"y": {"field": "p", "type": "quantitative"}, "text": {"field": "t"}}
        },
        {
          "data": {"values": [{"d": "2012-12-02T00:00", "d2": "2012-12-10T21:00", "p": 278.8, "p2": 264.4}], "format": {"parse": {"d": "date", "d2": "date"}}},
          "mark": {"type": "rect", "color": "#1414ff"},
          "encoding": {"y": {"field": "p", "type": "quantitative"}, "x2": {"field": "d2"}, "y2": {"field": "p2"}}
        },
        {
          "data": {"values": [{"d": "2012-11-20T00:00", "p": 271.5, "t": "A"}, {"d": "2012-12-15T00:00", "p": 271.5, "t": "TML"}]},
          "mark": {"type": "text", "align": "left", "baseline": "middle", "fontSize": 22, "color": "#c8c8c8"},
          "encoding": {"y": {"field": "p", "type": "quantitative"}, "text": {"field": "t"}}
        },
        {
          "data": {"values": [{"d": "2012-12-02T17:00", "p": 271.5, "t": "L"}]},
          "mark": {"type": "text", "align": "left", "baseline": "middle", "fontSize": 22, "color": "#e8e8ff"},
          "encoding": {"y": {"field": "p", "type": "quantitative"}, "text": {"field": "t"}}
        },
        {
          "data": {"values": [{"d": "2013-01-17T10:00", "p": 256.2, "t": "9.00%"}]},
          "mark": {"type": "text", "align": "right", "baseline": "middle", "fontSize": 26, "color": "#ff0000"},
          "encoding": {"y": {"field": "p", "type": "quantitative"}, "text": {"field": "t"}}
        },
        {
          "data": {"values": [{"d": "2010-11-12T07:00", "d2": "2013-01-16T00:00", "p": 878.3}], "format": {"parse": {"d": "date", "d2": "date"}}},
          "mark": {"type": "rule", "color": "#8c8c8c", "strokeWidth": 1},
          "encoding": {"y": {"field": "p", "type": "quantitative"}, "x2": {"field": "d2"}}
        },
        {
          "data": {"values": [{"d": "2010-11-12T07:00", "d2": "2013-01-17T00:00", "p": 774.0}], "format": {"parse": {"d": "date", "d2": "date"}}},
          "mark": {"type": "rule", "color": "#000000", "strokeWidth": 1.2},
          "encoding": {"y": {"field": "p", "type": "quantitative"}, "x2": {"field": "d2"}}
        },
        {
          "data": {"values": [{"d": "2010-11-12T07:00", "d2": "2013-01-18T02:00", "p": 248.6}], "format": {"parse": {"d": "date", "d2": "date"}}},
          "mark": {"type": "rule", "color": "#000000", "strokeWidth": 4},
          "encoding": {"y": {"field": "p", "type": "quantitative"}, "x2": {"field": "d2"}}
        },
        {
          "data": {"values": [{"d": "2010-11-12T07:00", "d2": "2013-01-18T02:00", "p": 248.6}], "format": {"parse": {"d": "date", "d2": "date"}}},
          "mark": {"type": "rule", "color": "#8a8a8a", "strokeWidth": 0.8},
          "encoding": {"y": {"field": "p", "type": "quantitative"}, "x2": {"field": "d2"}}
        },
        {
          "data": {"values": [{"d": "2010-11-13T16:00", "p": 863.5, "t": "AAPL - Apple Inc"}]},
          "mark": {"type": "text", "align": "left", "baseline": "middle", "fontSize": 11.5, "color": "#000000"},
          "encoding": {"y": {"field": "p", "type": "quantitative"}, "text": {"field": "t"}}
        },
        {
          "data": {"values": [{"d": "2010-11-14T09:00", "p": 838.3, "t": "COMPUTER HARDWARE - Personal Computers"}]},
          "mark": {"type": "text", "align": "left", "baseline": "middle", "fontSize": 9.5, "color": "#000000"},
          "encoding": {"y": {"field": "p", "type": "quantitative"}, "text": {"field": "t"}}
        },
        {
          "data": {"values": [
            {"d": "2011-04-04T19:00", "p": 838.3, "t": "▾"},
            {"d": "2011-01-06T00:00", "p": 810.6, "t": "▾"},
            {"d": "2011-03-12T12:00", "p": 810.6, "t": "▾"}
          ]},
          "mark": {"type": "text", "align": "left", "baseline": "middle", "fontSize": 9, "color": "#c0c0c0"},
          "encoding": {"y": {"field": "p", "type": "quantitative"}, "text": {"field": "t"}}
        },
        {
          "data": {"values": [
            {"d": "2010-11-14T09:00", "p": 810.6, "t": "F5 - Blog-Daily"},
            {"d": "2011-01-29T22:00", "p": 810.6, "t": "Edit"},
            {"d": "2011-02-20T17:00", "p": 810.6, "t": "Daily"}
          ]},
          "mark": {"type": "text", "align": "left", "baseline": "middle", "fontSize": 10.5, "color": "#000000"},
          "encoding": {"y": {"field": "p", "type": "quantitative"}, "text": {"field": "t"}}
        },
        {
          "data": {"values": [
            {"d": "2011-01-19T14:00", "p": 810.6, "t": "▮▮"},
            {"d": "2011-03-21T10:00", "p": 810.6, "t": "⊕"},
            {"d": "2011-03-29T14:00", "p": 810.6, "t": "⊖"},
            {"d": "2011-04-16T10:00", "p": 810.6, "t": "✎"}
          ]},
          "mark": {"type": "text", "align": "left", "baseline": "middle", "fontSize": 11, "font": "DejaVu Sans", "color": "#3a3a3a"},
          "encoding": {"y": {"field": "p", "type": "quantitative"}, "text": {"field": "t"}}
        },
        {
          "data": {"values": [{"d": "2011-04-02T00:00", "d2": "2011-04-28T00:00", "p": 797.0, "p2": 773.8}], "format": {"parse": {"d": "date", "d2": "date"}}},
          "mark": {"type": "rect", "color": "#000000"},
          "encoding": {"y": {"field": "p", "type": "quantitative"}, "x2": {"field": "d2"}, "y2": {"field": "p2"}}
        },
        {
          "data": {"values": [{"d": "2011-04-28T00:00", "d2": "2011-05-31T11:00", "p": 797.0, "p2": 773.8}], "format": {"parse": {"d": "date", "d2": "date"}}},
          "mark": {"type": "rect", "color": "#7d0000"},
          "encoding": {"y": {"field": "p", "type": "quantitative"}, "x2": {"field": "d2"}, "y2": {"field": "p2"}}
        },
        {
          "data": {"values": [{"d": "2011-08-31T17:00", "d2": "2011-10-29T10:00", "p": 797.0, "p2": 773.8}], "format": {"parse": {"d": "date", "d2": "date"}}},
          "mark": {"type": "rect", "color": "#2e0a36"},
          "encoding": {"y": {"field": "p", "type": "quantitative"}, "x2": {"field": "d2"}, "y2": {"field": "p2"}}
        },
        {
          "data": {"values": [
            {"d": "2010-11-15T18:00", "p": 785.3, "t": "11/07/12"},
            {"d": "2011-03-07T18:00", "p": 785.3, "t": "563.39"}
          ]},
          "mark": {"type": "text", "align": "left", "baseline": "middle", "fontSize": 11, "fontWeight": "bold", "color": "#1bdc1b"},
          "encoding": {"y": {"field": "p", "type": "quantitative"}, "text": {"field": "t"}}
        },
        {
          "data": {"values": [
            {"d": "2010-12-22T14:00", "p": 785.3, "t": "573.95"},
            {"d": "2011-01-17T14:00", "p": 785.3, "t": "574.54"},
            {"d": "2011-02-10T05:00", "p": 785.3, "t": "556.04"}
          ]},
          "mark": {"type": "text", "align": "left", "baseline": "middle", "fontSize": 10, "color": "#000000"},
          "encoding": {"y": {"field": "p", "type": "quantitative"}, "text": {"field": "t"}}
        },
        {
          "data": {"values": [{"d": "2011-04-15T00:00", "p": 785.3, "t": "-19.46"}]},
          "mark": {"type": "text", "align": "center", "baseline": "middle", "fontSize": 11, "color": "#ff2a2a"},
          "encoding": {"y": {"field": "p", "type": "quantitative"}, "text": {"field": "t"}}
        },
        {
          "data": {"values": [
            {"d": "2011-05-14T17:00", "p": 785.3, "t": "-3.34%"},
            {"d": "2011-09-15T17:00", "p": 785.3, "t": "+14.20"}
          ]},
          "mark": {"type": "text", "align": "center", "baseline": "middle", "fontSize": 11, "color": "#ffffff"},
          "encoding": {"y": {"field": "p", "type": "quantitative"}, "text": {"field": "t"}}
        },
        {
          "data": {"values": [{"d": "2011-10-16T10:00", "p": 785.3, "t": "+1.80"}]},
          "mark": {"type": "text", "align": "center", "baseline": "middle", "fontSize": 11, "color": "#33ff33"},
          "encoding": {"y": {"field": "p", "type": "quantitative"}, "text": {"field": "t"}}
        },
        {
          "data": {"values": [{"d": "2011-06-03T05:00", "p": 785.3, "t": "151964"}]},
          "mark": {"type": "text", "align": "left", "baseline": "middle", "fontSize": 9.5, "color": "#f2f250"},
          "encoding": {"y": {"field": "p", "type": "quantitative"}, "text": {"field": "t"}}
        },
        {
          "data": {"values": [{"d": "2011-06-27T02:00", "p": 785.3, "t": "25.00"}]},
          "mark": {"type": "text", "align": "left", "baseline": "middle", "fontSize": 10, "color": "#ff9a55"},
          "encoding": {"y": {"field": "p", "type": "quantitative"}, "text": {"field": "t"}}
        },
        {
          "data": {"values": [{"d": "2011-07-31T05:00", "p": 785.3, "t": "132.00"}]},
          "mark": {"type": "text", "align": "left", "baseline": "middle", "fontSize": 10.5, "color": "#ff2020"},
          "encoding": {"y": {"field": "p", "type": "quantitative"}, "text": {"field": "t"}}
        },
        {
          "data": {"values": [
            {"d": "2013-01-14T17:00", "p": 807.2, "t": "-19.46"},
            {"d": "2013-01-14T17:00", "p": 783.7, "t": "-3.34%"}
          ]},
          "mark": {"type": "text", "align": "right", "baseline": "middle", "fontSize": 11, "fontWeight": "bold", "color": "#ff2020"},
          "encoding": {"y": {"field": "p", "type": "quantitative"}, "text": {"field": "t"}}
        },
        {
          "data": {"values": [{"d": "2010-11-13T16:00", "p": 764.1, "t": "Price Chart"}]},
          "mark": {"type": "text", "align": "left", "baseline": "middle", "fontSize": 7.5, "color": "#000000"},
          "encoding": {"y": {"field": "p", "type": "quantitative"}, "text": {"field": "t"}}
        },
        {
          "data": {"values": [{"d": "2010-12-15T19:00", "p": 764.1, "t": "MovAvg 200"}]},
          "mark": {"type": "text", "align": "left", "baseline": "middle", "fontSize": 7.5, "color": "#3333ff"},
          "encoding": {"y": {"field": "p", "type": "quantitative"}, "text": {"field": "t"}}
        },
        {
          "data": {"values": [{"d": "2011-01-23T17:00", "p": 764.1, "t": "MovAvg 100"}]},
          "mark": {"type": "text", "align": "left", "baseline": "middle", "fontSize": 7.5, "color": "#2ee62e"},
          "encoding": {"y": {"field": "p", "type": "quantitative"}, "text": {"field": "t"}}
        },
        {
          "data": {"values": [{"d": "2011-03-02T07:00", "p": 764.1, "t": "MovAvg 50"}]},
          "mark": {"type": "text", "align": "left", "baseline": "middle", "fontSize": 7.5, "color": "#ff3333"},
          "encoding": {"y": {"field": "p", "type": "quantitative"}, "text": {"field": "t"}}
        },
        {
          "data": {"values": [{"d": "2011-04-06T19:00", "p": 764.1, "t": "MovAvg 300"}]},
          "mark": {"type": "text", "align": "left", "baseline": "middle", "fontSize": 7.5, "color": "#22e3ff"},
          "encoding": {"y": {"field": "p", "type": "quantitative"}, "text": {"field": "t"}}
        },
        {
          "data": {"values": [{"d": "2011-05-14T10:00", "p": 764.1, "t": "EnvChan 300,20"}]},
          "mark": {"type": "text", "align": "left", "baseline": "middle", "fontSize": 7.5, "color": "#000080"},
          "encoding": {"y": {"field": "p", "type": "quantitative"}, "text": {"field": "t"}}
        }
      ]
    },
    {
      "width": 1061,
      "height": 77,
      "encoding": {
        "x": {
          "field": "d", "type": "temporal",
          "scale": {"domain": [{"year": 2010, "month": 11, "date": 13}, {"year": 2012, "month": 11, "date": 7, "hours": 12}], "nice": false},
          "axis": {
            "title": null, "labels": false, "ticks": false, "domain": false, "grid": true,
            "tickCount": {"interval": "month", "step": 1},
            "gridColor": {"condition": {"test": "month(datum.value) === 0", "value": "#3c3c3c"}, "value": "#a8a8a8"}
          }
        }
      },
      "layer": [
        {
          "data": {"name": "w"},
          "mark": {"type": "bar", "size": 5, "color": "#3a3a3a", "opacity": 0.75},
          "encoding": {
            "y": {
              "field": "vol", "type": "quantitative",
              "scale": {"domain": [0, 726000], "nice": false},
              "axis": {"orient": "right", "title": null, "labels": false, "grid": false, "ticks": false, "domain": false}
            }
          }
        },
        {
          "data": {"name": "w"},
          "mark": {"type": "line", "color": "#3b3bff", "strokeWidth": 1.2},
          "encoding": {"y": {"field": "vm", "type": "quantitative"}}
        },
        {
          "data": {"name": "w"},
          "mark": {"type": "line", "color": "#ff1010", "strokeWidth": 2.8},
          "encoding": {"y": {"field": "ob", "type": "quantitative"}}
        },
        {
          "data": {"values": [{"d": "2012-02-21T20:00", "d2": "2012-12-30T17:00", "v": 801400, "v2": 264000}], "format": {"parse": {"d": "date", "d2": "date"}}},
          "mark": {"type": "rule", "color": "#9c6fd6", "strokeWidth": 3},
          "encoding": {"y": {"field": "v", "type": "quantitative"}, "x2": {"field": "d2"}, "y2": {"field": "v2"}}
        },
        {
          "data": {"values": [{"d": "2010-11-12T07:00", "d2": "2013-01-18T02:00", "v": 726000}], "format": {"parse": {"d": "date", "d2": "date"}}},
          "mark": {"type": "rule", "color": "#000000", "strokeWidth": 3},
          "encoding": {"y": {"field": "v", "type": "quantitative"}, "x2": {"field": "d2"}}
        },
        {
          "data": {"values": [{"d": "2013-01-11T07:00", "d2": "2013-01-18T02:00", "v": 94300, "v2": -9400}], "format": {"parse": {"d": "date", "d2": "date"}}},
          "mark": {"type": "rect", "fill": "#aaaaaa", "stroke": "#333333", "strokeWidth": 1},
          "encoding": {"y": {"field": "v", "type": "quantitative"}, "y2": {"field": "v2"}, "x2": {"field": "d2"}}
        },
        {
          "data": {"values": [
            {"d": "2012-11-07T12:00", "v": 662800, "t": "669385"},
            {"d": "2012-11-07T12:00", "v": 367700, "t": "334693"},
            {"d": "2012-11-07T12:00", "v": 28300, "t": "0"}
          ]},
          "mark": {"type": "text", "align": "left", "baseline": "middle", "dx": 2, "fontSize": 8, "font": "DejaVu Sans", "color": "#333333"},
          "encoding": {"y": {"field": "v", "type": "quantitative"}, "text": {"field": "t"}}
        },
        {
          "data": {"values": [{"d": "2010-11-13T00:00", "v": 660000, "t": "Volume"}]},
          "mark": {"type": "text", "align": "left", "baseline": "middle", "fontSize": 7.5, "color": "#555555"},
          "encoding": {"y": {"field": "v", "type": "quantitative"}, "text": {"field": "t"}}
        },
        {
          "data": {"values": [{"d": "2010-12-07T14:00", "v": 660000, "t": "MovAvg 50"}]},
          "mark": {"type": "text", "align": "left", "baseline": "middle", "fontSize": 7.5, "color": "#4444ff"},
          "encoding": {"y": {"field": "v", "type": "quantitative"}, "text": {"field": "t"}}
        },
        {
          "data": {"values": [{"d": "2011-01-12T02:00", "v": 660000, "t": "OBV"}]},
          "mark": {"type": "text", "align": "left", "baseline": "middle", "fontSize": 7.5, "color": "#ff2020"},
          "encoding": {"y": {"field": "v", "type": "quantitative"}, "text": {"field": "t"}}
        }
      ]
    }
  ]
}
